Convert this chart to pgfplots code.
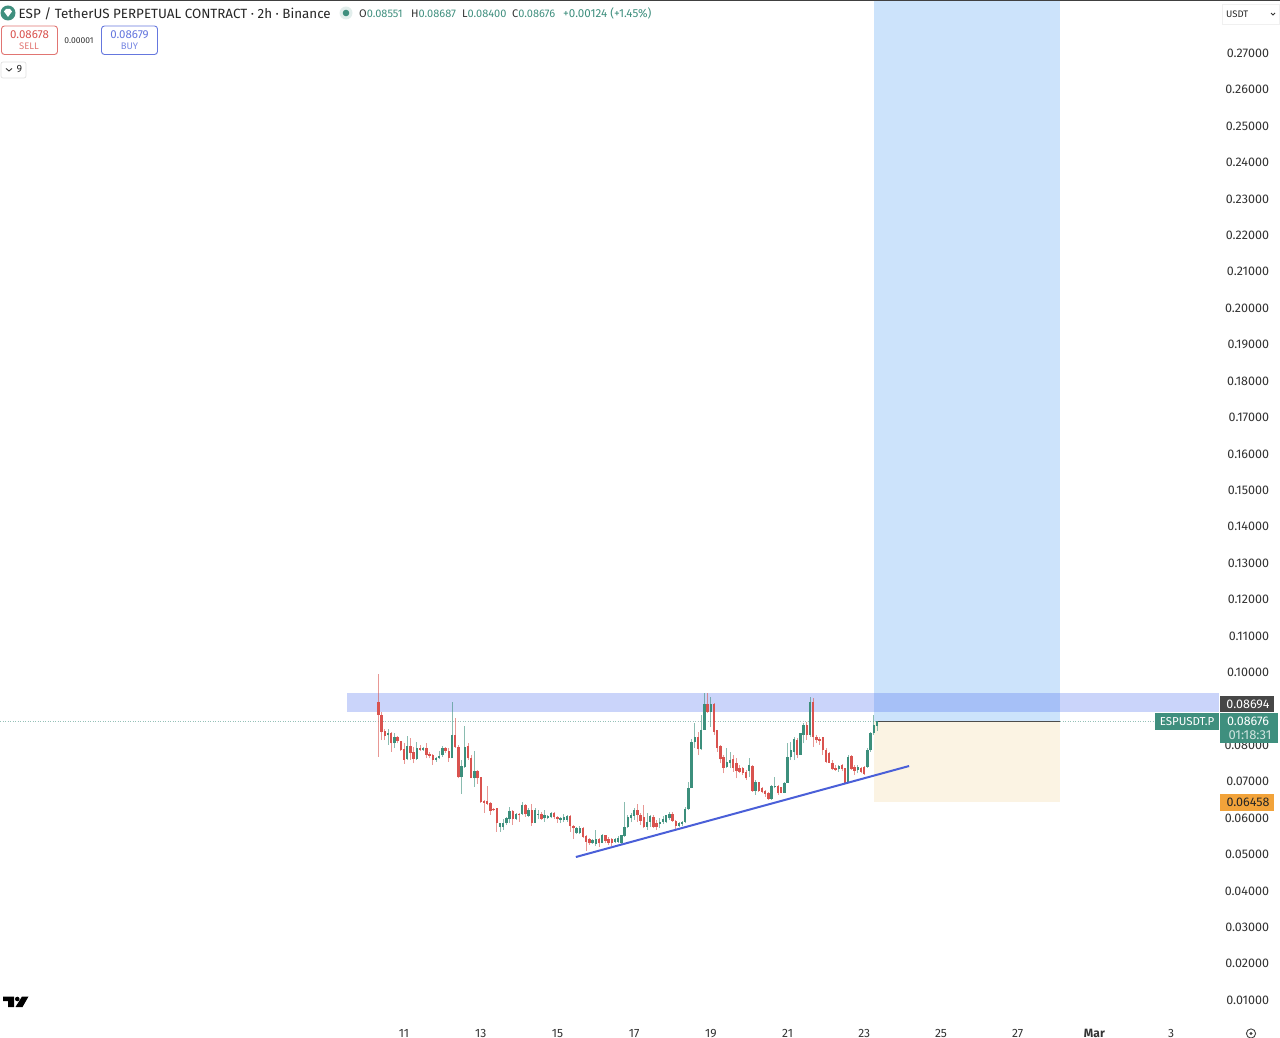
\documentclass[border=0pt]{standalone}
\usepackage{pgfplots}
\usepackage{pgfplotstable}
\usepackage{fontspec}
\setmainfont{Fira Sans}
\pgfplotsset{compat=1.18}
\definecolor{cup}{HTML}{3C8F7C}
\definecolor{cdn}{HTML}{D9534F}
\definecolor{tl}{HTML}{3F8F7E}
\definecolor{rectblue}{HTML}{CCE3FB}
\definecolor{rectorange}{HTML}{FBF3E3}
\definecolor{bandblue}{HTML}{5070F0}
\definecolor{trendc}{HTML}{4A5FD8}
\definecolor{orangelab}{HTML}{F2A33A}
\pgfplotstableread{
i low high bot top
0 0.0770 0.0998 0.0884 0.0921
1 0.0815 0.0893 0.0838 0.0884
2 0.0815 0.0847 0.0826 0.0841
4 0.0783 0.0838 0.0806 0.0836
6 0.0806 0.0826 0.0814 0.0825
7 0.0786 0.0814 0.0788 0.0814
8 0.0750 0.0806 0.0761 0.0790
10 0.0761 0.0820 0.0779 0.0799
11 0.0751 0.0795 0.0762 0.0783
13 0.0786 0.0802 0.0788 0.0793
15 0.0765 0.0806 0.0774 0.0793
16 0.0765 0.0783 0.0771 0.0777
17 0.0747 0.0776 0.0761 0.0774
21 0.0781 0.0797 0.0786 0.0793
22 0.0756 0.0793 0.0765 0.0786
24 0.0793 0.0875 0.0795 0.0829
25 0.0710 0.0802 0.0713 0.0795
28 0.0761 0.0806 0.0765 0.0799
29 0.0710 0.0774 0.0710 0.0765
31 0.0696 0.0733 0.0710 0.0731
32 0.0643 0.0715 0.0646 0.0713
33 0.0616 0.0651 0.0643 0.0649
34 0.0637 0.0689 0.0640 0.0647
35 0.0610 0.0646 0.0621 0.0643
36 0.0621 0.0628 0.0622 0.0627
37 0.0564 0.0628 0.0587 0.0628
42 0.0582 0.0623 0.0598 0.0621
44 0.0591 0.0614 0.0610 0.0612
46 0.0605 0.0641 0.0612 0.0637
48 0.0580 0.0640 0.0587 0.0623
51 0.0596 0.0619 0.0599 0.0611
55 0.0598 0.0619 0.0603 0.0614
56 0.0587 0.0607 0.0598 0.0605
60 0.0564 0.0610 0.0579 0.0607
61 0.0543 0.0582 0.0573 0.0579
64 0.0546 0.0578 0.0550 0.0575
65 0.0512 0.0555 0.0536 0.0552
66 0.0527 0.0546 0.0532 0.0543
69 0.0523 0.0546 0.0532 0.0543
71 0.0532 0.0556 0.0539 0.0555
72 0.0527 0.0548 0.0534 0.0543
73 0.0525 0.0546 0.0534 0.0543
81 0.0591 0.0640 0.0610 0.0623
82 0.0582 0.0616 0.0594 0.0610
83 0.0573 0.0637 0.0578 0.0603
86 0.0573 0.0610 0.0578 0.0605
87 0.0568 0.0596 0.0576 0.0587
92 0.0591 0.0619 0.0594 0.0612
93 0.0570 0.0596 0.0579 0.0594
100 0.0774 0.0838 0.0790 0.0825
103 0.0889 0.0944 0.0893 0.0914
105 0.0829 0.0916 0.0838 0.0914
106 0.0783 0.0843 0.0793 0.0843
107 0.0751 0.0802 0.0762 0.0800
108 0.0724 0.0774 0.0740 0.0768
111 0.0729 0.0774 0.0740 0.0762
112 0.0710 0.0765 0.0731 0.0751
113 0.0724 0.0747 0.0729 0.0740
114 0.0719 0.0742 0.0726 0.0738
115 0.0706 0.0733 0.0710 0.0729
117 0.0674 0.0747 0.0676 0.0745
119 0.0674 0.0701 0.0676 0.0701
120 0.0669 0.0687 0.0674 0.0683
121 0.0660 0.0678 0.0667 0.0676
122 0.0651 0.0674 0.0654 0.0671
125 0.0665 0.0692 0.0669 0.0689
126 0.0669 0.0687 0.0671 0.0686
131 0.0765 0.0820 0.0774 0.0815
134 0.0815 0.0866 0.0829 0.0857
136 0.0797 0.0930 0.0823 0.0921
137 0.0806 0.0829 0.0815 0.0823
138 0.0802 0.0825 0.0813 0.0817
139 0.0774 0.0825 0.0788 0.0823
140 0.0751 0.0793 0.0756 0.0788
141 0.0751 0.0783 0.0753 0.0779
142 0.0733 0.0760 0.0735 0.0753
143 0.0731 0.0747 0.0733 0.0740
145 0.0731 0.0749 0.0735 0.0746
146 0.0697 0.0738 0.0697 0.0738
148 0.0733 0.0774 0.0735 0.0772
149 0.0719 0.0747 0.0731 0.0742
151 0.0724 0.0742 0.0729 0.0740
152 0.0719 0.0744 0.0722 0.0742
}\dn
\pgfplotstableread{
i low high bot top
3 0.0802 0.0845 0.0828 0.0834
5 0.0793 0.0836 0.0806 0.0823
9 0.0761 0.0826 0.0762 0.0799
12 0.0761 0.0811 0.0762 0.0793
14 0.0786 0.0795 0.0788 0.0793
18 0.0756 0.0770 0.0761 0.0767
19 0.0762 0.0786 0.0766 0.0771
20 0.0770 0.0799 0.0774 0.0793
23 0.0765 0.0921 0.0765 0.0829
26 0.0667 0.0761 0.0713 0.0744
27 0.0740 0.0854 0.0742 0.0795
30 0.0687 0.0786 0.0710 0.0731
38 0.0564 0.0587 0.0578 0.0587
39 0.0568 0.0598 0.0578 0.0588
40 0.0582 0.0605 0.0587 0.0600
41 0.0587 0.0631 0.0598 0.0621
43 0.0596 0.0616 0.0599 0.0612
45 0.0610 0.0646 0.0612 0.0637
47 0.0605 0.0628 0.0607 0.0623
49 0.0587 0.0628 0.0588 0.0623
50 0.0598 0.0623 0.0610 0.0612
52 0.0591 0.0622 0.0600 0.0610
53 0.0598 0.0610 0.0600 0.0607
54 0.0600 0.0619 0.0603 0.0614
57 0.0587 0.0605 0.0596 0.0600
58 0.0589 0.0611 0.0596 0.0603
59 0.0591 0.0610 0.0596 0.0607
62 0.0557 0.0578 0.0561 0.0573
63 0.0557 0.0579 0.0559 0.0575
67 0.0530 0.0543 0.0532 0.0541
68 0.0525 0.0568 0.0530 0.0543
70 0.0532 0.0557 0.0534 0.0555
74 0.0532 0.0546 0.0536 0.0543
75 0.0532 0.0552 0.0536 0.0546
76 0.0530 0.0556 0.0534 0.0555
77 0.0550 0.0646 0.0552 0.0578
78 0.0573 0.0610 0.0578 0.0605
79 0.0589 0.0614 0.0600 0.0610
80 0.0596 0.0628 0.0607 0.0623
84 0.0568 0.0614 0.0578 0.0591
85 0.0578 0.0610 0.0591 0.0607
88 0.0573 0.0600 0.0585 0.0589
89 0.0585 0.0607 0.0589 0.0598
90 0.0587 0.0610 0.0591 0.0610
91 0.0596 0.0619 0.0600 0.0612
94 0.0578 0.0591 0.0580 0.0587
95 0.0579 0.0594 0.0585 0.0591
96 0.0587 0.0632 0.0591 0.0625
97 0.0623 0.0701 0.0625 0.0683
98 0.0683 0.0817 0.0683 0.0811
99 0.0793 0.0861 0.0809 0.0823
101 0.0788 0.0884 0.0790 0.0843
102 0.0843 0.0944 0.0843 0.0914
104 0.0852 0.0934 0.0893 0.0914
109 0.0740 0.0793 0.0742 0.0756
110 0.0738 0.0783 0.0751 0.0760
116 0.0715 0.0765 0.0731 0.0747
118 0.0665 0.0706 0.0676 0.0701
123 0.0651 0.0692 0.0654 0.0689
124 0.0683 0.0715 0.0686 0.0689
127 0.0669 0.0701 0.0671 0.0698
128 0.0697 0.0806 0.0698 0.0770
129 0.0760 0.0811 0.0768 0.0788
130 0.0760 0.0825 0.0783 0.0817
132 0.0774 0.0834 0.0774 0.0834
133 0.0806 0.0861 0.0829 0.0857
135 0.0825 0.0934 0.0829 0.0921
144 0.0729 0.0747 0.0735 0.0744
147 0.0697 0.0774 0.0701 0.0770
150 0.0724 0.0747 0.0733 0.0742
153 0.0740 0.0793 0.0742 0.0788
154 0.0783 0.0838 0.0788 0.0836
155 0.0829 0.0884 0.0834 0.0857
156 0.0840 0.0869 0.0855 0.0868
}\up
\pgfplotsset{
  candlepart/.style n args={3}{draw=none, mark=none, forget plot,
    error bars/.cd, y dir=plus, y explicit, error mark=none,
    error bar style={line width=#2, color=#1, opacity=#3}},
}
\begin{document}
\begin{tikzpicture}
\path[use as bounding box] (0,0) rectangle (1280pt,1037pt);
\begin{axis}[at={(0,0)},anchor=south west,scale only axis,width=1280pt,height=1037pt,
  xmin=0.465,xmax=33.84,ymin=0,ymax=0.28474,
  axis line style={draw=none},major tick length=0pt,
  ytick={0.01,0.02,0.03,0.04,0.05,0.06,0.07,0.08,0.10,0.11,0.12,0.13,0.14,0.15,0.16,0.17,0.18,0.19,0.20,0.21,0.22,0.23,0.24,0.25,0.26,0.27},
  yticklabel pos=right,
  yticklabel style={anchor=east,xshift=-7.5pt,yshift=0.4pt,font=\fontsize{12.5}{14}\selectfont,text=black!80,
    /pgf/number format/fixed,/pgf/number format/fixed zerofill,/pgf/number format/precision=5,/pgf/number format/assume math mode=true},
  scaled y ticks=false,
  xtick={11,13,15,17,19,21,23,25,27,29,31},
  xticklabels={11,13,15,17,19,21,23,25,27,\textbf{Mar},3},
  xticklabel style={anchor=base,yshift=-0.5pt,font=\fontsize{12}{13}\selectfont,text=black!80,/pgf/number format/assume math mode=true},
]
% position drawing: target and stop zones
\addplot[fill=rectblue,draw=none,forget plot] coordinates {(23.256,0.08676)(28.105,0.08676)(28.105,0.28474)(23.256,0.28474)} -- cycle;
\addplot[fill=rectorange,draw=none,forget plot] coordinates {(23.256,0.06458)(28.105,0.06458)(28.105,0.08676)(23.256,0.08676)} -- cycle;
% resistance band
\addplot[fill=bandblue,fill opacity=0.3,draw=none,forget plot] coordinates {(9.514,0.08924)(32.252,0.08924)(32.252,0.09445)(9.514,0.09445)} -- cycle;
% last price line
\addplot[tl!55,line width=0.5pt,dotted,forget plot] coordinates {(0.465,0.08676)(30.609,0.08676)};
\addplot[black!70,line width=0.9pt,forget plot] coordinates {(23.334,0.08676)(28.105,0.08676)};
% candles
\addplot[candlepart={cdn}{0.8pt}{0.6}] table[x expr=10.333+\thisrow{i}/12,y=low,y error expr=\thisrow{high}-\thisrow{low}] {\dn};
\addplot[candlepart={cup}{0.8pt}{0.6}] table[x expr=10.333+\thisrow{i}/12,y=low,y error expr=\thisrow{high}-\thisrow{low}] {\up};
\addplot[candlepart={cdn}{2.4pt}{1}] table[x expr=10.333+\thisrow{i}/12,y=bot,y error expr=\thisrow{top}-\thisrow{bot}] {\dn};
\addplot[candlepart={cup}{2.4pt}{1}] table[x expr=10.333+\thisrow{i}/12,y=bot,y error expr=\thisrow{top}-\thisrow{bot}] {\up};
% trend line
\addplot[trendc,line width=2pt,forget plot] coordinates {(15.48,0.04942)(24.168,0.07441)};
\end{axis}
\begin{scope}[x=1pt,y=-1pt,yshift=1037pt]
\fill[black!75] (0,0) rectangle (1280,1.2);
% title row
\fill[tl] (8,13) circle (7.5);
\fill[white] (4,11.5) -- (6,9) -- (10,9) -- (12,11.5) -- (8,17) -- cycle;
\node[anchor=base west,inner sep=0,font=\fontsize{13.4}{15}\selectfont,text=black!85] at (18.5,18.7) {ESP / TetherUS PERPETUAL CONTRACT · 2h · Binance};
\fill[tl!15] (346,13) circle (6.5);
\fill[tl] (346,13) circle (3.3);
\node[anchor=base west,inner sep=0,font=\fontsize{11}{12}\selectfont,text=tl] at (359,17.5) {\textcolor{black!80}{O}0.08551};
\node[anchor=base west,inner sep=0,font=\fontsize{11}{12}\selectfont,text=tl] at (411,17.5) {\textcolor{black!80}{H}0.08687};
\node[anchor=base west,inner sep=0,font=\fontsize{11}{12}\selectfont,text=tl] at (462,17.5) {\textcolor{black!80}{L}0.08400};
\node[anchor=base west,inner sep=0,font=\fontsize{11}{12}\selectfont,text=tl] at (512,17.5) {\textcolor{black!80}{C}0.08676};
\node[anchor=base west,inner sep=0,font=\fontsize{11.6}{13}\selectfont,text=tl] at (563,17.5) {+0.00124 (+1.45\%)};
% sell / buy
\draw[cdn!80,rounded corners=3,line width=0.9] (1.5,26) rectangle (57.5,54.5);
\node[font=\fontsize{11.5}{12}\selectfont,text=cdn] at (29.5,34.5) {0.08678};
\node[font=\fontsize{9.5}{11}\selectfont,text=cdn!80] at (29,46) {SELL};
\node[font=\fontsize{8.5}{10}\selectfont,text=black!80] at (79,40.5) {0.00001};
\draw[trendc!85,rounded corners=3,line width=0.9] (101.5,26) rectangle (157.5,54.5);
\node[font=\fontsize{11.5}{12}\selectfont,text=trendc!85] at (129.5,34.5) {0.08679};
\node[font=\fontsize{9.5}{11}\selectfont,text=trendc!75] at (129.5,46) {BUY};
\draw[black!12,rounded corners=2,line width=0.7] (1,62) rectangle (26,78);
\draw[black!80,line width=0.9] (6,68.5) -- (9,71) -- (12,68.5);
\node[font=\fontsize{10.5}{12}\selectfont,text=black!85] at (19.5,69.5) {9};
% currency
\draw[black!6,line width=0.7] (1222,4) rectangle (1279,24);
\node[anchor=west,inner sep=0,font=\fontsize{9.5}{11}\selectfont,text=black!85] at (1226,14) {USDT};
\draw[black!80,line width=0.8] (1271,13) -- (1273,15) -- (1275,13);
% price labels
\fill[black!72] (1220,696) rectangle (1274,712);
\node[font=\fontsize{12.5}{14}\selectfont,text=white] at (1248,704.5) {0.08694};
\fill[tl] (1155,713) rectangle (1219,730);
\node[font=\fontsize{11.5}{13}\selectfont,text=white] at (1187,721.5) {ESPUSDT.P};
\fill[tl] (1220,713) rectangle (1278,743);
\node[font=\fontsize{12.5}{14}\selectfont,text=white] at (1248,721.5) {0.08676};
\node[font=\fontsize{13}{14}\selectfont,text=white!75!tl] at (1250,735.5) {01:18:31};
\fill[orangelab] (1220,794) rectangle (1274,811);
\node[font=\fontsize{12.5}{14}\selectfont,text=black!85] at (1248,802.5) {0.06458};
% logo
\fill[black] (3,996.5) -- (14,996.5) -- (14,1007) -- (8,1007) -- (8,1001) -- (3,1001) -- cycle;
\fill[black] (17.3,999) circle (2.3);
\fill[black] (22,996.5) -- (28.5,996.5) -- (22.5,1007) -- (15.5,1007) -- cycle;
% settings icon
\draw[black!75,line width=0.9] (1251,1033.5) circle (4.6);
\fill[black!75] (1251,1033.5) circle (1.6);
\end{scope}
\end{tikzpicture}
\end{document}
